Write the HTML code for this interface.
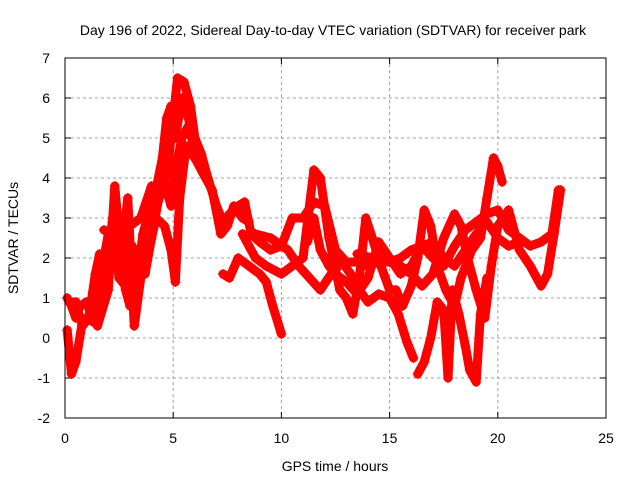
<!DOCTYPE html>
<html><head><meta charset="utf-8"><style>
body{margin:0;background:#fff}
svg{font-family:"Liberation Sans",sans-serif;font-size:14px}
</style></head><body>
<svg id="chart" width="640" height="480">
<text x="333" y="35" text-anchor="middle">Day 196 of 2022, Sidereal Day-to-day VTEC variation (SDTVAR) for receiver park</text>
<text x="335" y="471" text-anchor="middle">GPS time / hours</text>
<text transform="translate(18,238) rotate(-90)" text-anchor="middle">SDTVAR / TECUs</text>
<g id="grid"></g><g id="data"></g>
<rect x="65" y="58" width="541" height="360" fill="none" stroke="#000" stroke-width="1"/>
</svg>
<script>
const xTicks=[0,5,10,15,20,25];
const yTicks=[-2,-1,0,1,2,3,4,5,6,7];
const trackA=[[0.1,1.0],[0.3,0.8],[0.5,0.5],[0.7,0.8],[1.0,0.9],[1.3,0.4],[1.6,1.2],[1.8,2.0],[2.0,2.6],[2.3,2.5],[2.6,2.3],[3.0,2.8],[3.5,3.0],[4.0,3.8],[4.5,3.6],[4.8,4.5],[5.0,5.5],[5.2,6.5],[5.5,6.4],[5.8,5.8],[6.0,5.0],[6.3,4.6],[6.6,4.0],[7.0,3.3],[7.3,2.9],[7.6,3.1],[8.0,3.3],[8.3,3.4],[8.6,2.6],[9.0,2.4],[9.5,2.2],[10.0,2.3],[10.5,3.0],[11.0,3.0],[11.5,3.4],[12.0,3.3],[12.5,2.2],[13.0,1.9],[13.5,1.9],[14,1.8],[14.5,1.9],[15,1.9],[15.5,2.0],[16,2.2],[16.5,2.3],[17,2.0],[17.5,1.8],[18,2.3],[18.5,2.7],[19,2.9],[19.5,3.1],[20,3.2],[20.5,2.7],[21,2.5],[21.5,2.3],[22,2.4],[22.5,2.6],[22.8,3.7]];
const trackB=[[0.1,0.2],[0.3,-0.9],[0.5,-0.6],[0.8,0.4],[1.2,0.6],[1.5,0.3],[2.0,1.2],[2.3,3.8],[2.6,2.0],[2.9,3.5],[3.2,0.3],[3.5,1.5],[3.8,2.0],[4.2,3.0],[4.6,2.8],[4.9,2.2],[5.1,1.4],[5.3,3.5],[5.6,4.8],[6.0,4.5],[6.5,4.0]];
const trackC=[[7.3,1.6],[7.6,1.5],[8.0,2.0],[8.5,1.8],[9.0,1.6],[9.3,1.4],[9.6,0.8],[10,0.1]];
const trackD=[[8.2,2.6],[8.8,2.0],[9.3,1.8],[10,1.6],[10.5,1.8],[11,2.0],[11.5,4.2],[11.8,4.0],[12.2,2.5],[12.7,1.2],[13.0,1.0],[13.3,0.6],[13.6,1.5],[13.9,3.0],[14.2,2.5],[14.6,1.8],[15,1.2],[15.3,1.2],[15.6,0.8],[16,1.3],[16.3,2.0],[16.6,3.2],[16.9,2.8],[17.2,1.8],[17.6,1.2],[18,0.8],[18.3,1.5],[18.8,2.2],[19.2,2.5],[19.5,3.5],[19.8,4.5],[20.0,4.3],[20.2,3.9]];
const trackE=[[8.8,2.6],[9.5,2.5],[10.3,2.2],[10.8,1.8],[11.3,1.5],[11.8,1.2],[12.3,1.6],[12.8,1.9],[13.2,1.6],[13.6,1.2],[14.0,0.9],[14.5,1.1],[15.0,1.0],[15.4,0.6],[15.8,-0.1],[16.1,-0.5]];
const trackF=[[16.3,-0.9],[16.6,-0.6],[16.9,0.0],[17.2,0.9],[17.5,0.7],[17.7,-1.0],[17.9,1.2],[18.2,0.6],[18.5,-0.2],[18.7,-0.8],[19.0,-1.1],[19.2,0.6],[19.5,1.5]];
const trackG=[[13.5,2.1],[14.2,2.0],[15.0,1.9],[15.5,1.8],[16.0,1.6],[16.5,1.3],[17.0,1.6],[17.5,2.5],[18.0,3.1],[18.3,2.8],[18.6,2.0],[19.0,1.2],[19.4,0.5],[19.7,1.8],[20,2.8],[20.5,3.2],[21,2.2],[21.5,1.8],[22,1.3],[22.3,1.6],[22.6,2.6],[22.9,3.7]];
const trackH=[[1.8,2.7],[2.2,2.6],[2.5,1.5],[2.8,1.3],[3.1,2.3],[3.4,2.0],[3.7,1.6],[4.0,2.5],[4.3,3.4],[4.6,3.9],[4.9,3.3],[5.1,4.2],[5.4,5.0],[5.7,5.3],[6.0,4.7],[6.3,4.2],[6.8,3.7],[7.2,2.6],[7.5,2.8],[7.8,3.3],[8.2,3.0],[8.5,2.9]];
const trackI=[[0.2,0.9],[0.5,0.9],[0.8,0.3],[1.1,0.5],[1.4,1.6],[1.6,2.1],[1.9,1.5],[2.2,3.0],[2.5,2.2],[2.8,1.2],[3.0,0.8],[3.3,1.3],[3.6,2.6],[3.9,3.2],[4.2,3.7],[4.5,4.5],[4.7,5.5],[4.9,5.8],[5.1,5.0],[5.4,6.0],[5.7,5.5],[6.0,4.8]];
const trackJ=[[11.2,2.4],[11.5,3.0],[11.8,2.2],[12.2,1.8],[12.5,1.6],[13.0,1.4],[13.5,1.1],[14,1.5],[14.5,2.4],[15.0,2.0],[15.5,1.6],[16,1.8],[16.5,2.3],[17,2.4],[17.5,2.0],[18,1.8],[18.5,2.2],[19,2.6],[19.5,2.9],[20,2.5],[20.5,2.3],[21,2.4]];
const tracks=[trackA,trackB,trackC,trackD,trackE,trackF,trackG,trackH,trackI,trackJ];
const X=t=>65+t*(541/25);
const Y=v=>418-(v+2)*40;
const NS="http://www.w3.org/2000/svg";
const grid=document.getElementById('grid'),data=document.getElementById('data'),svg=document.getElementById('chart');
function mk(tag,at,parent){const e=document.createElementNS(NS,tag);for(const k in at)e.setAttribute(k,at[k]);parent.appendChild(e);return e;}
xTicks.forEach(t=>{
  if(t>0&&t<25){const g=mk('line',{x1:X(t),x2:X(t),y1:58,y2:418,stroke:'#a0a0a0','stroke-dasharray':'3,3'},grid);
  
  }
  mk('line',{x1:X(t),x2:X(t),y1:418,y2:412,stroke:'#000'},grid);
  mk('line',{x1:X(t),x2:X(t),y1:58,y2:64,stroke:'#000'},grid);
  const l=mk('text',{x:X(t),y:443,'text-anchor':'middle'},svg);l.textContent=t;
  
  
});
yTicks.forEach(v=>{
  if(v>-2&&v<7){const g=mk('line',{x1:65,x2:606,y1:Y(v),y2:Y(v),stroke:'#a0a0a0','stroke-dasharray':'3,3'},grid);
  
  }
  mk('line',{x1:65,x2:71,y1:Y(v),y2:Y(v),stroke:'#000'},grid);
  mk('line',{x1:600,x2:606,y1:Y(v),y2:Y(v),stroke:'#000'},grid);
  const l=mk('text',{x:50,y:Y(v)+5,'text-anchor':'end'},svg);l.textContent=v;
  
  
});
tracks.forEach((tr,i)=>{
  const p=mk('polyline',{points:tr.map(d=>X(d[0])+','+Y(d[1])).join(' '),fill:'none',stroke:'#f00','stroke-width':9,'stroke-linejoin':'round','stroke-linecap':'round'},data);
  
  
  tr.forEach(d=>{
    const m=mk('path',{d:`M${X(d[0])-5},${Y(d[1])}h10M${X(d[0])},${Y(d[1])-5}v10`,stroke:'#f00','stroke-width':1},data);
    
    
  });
});
</script>
</body></html>
